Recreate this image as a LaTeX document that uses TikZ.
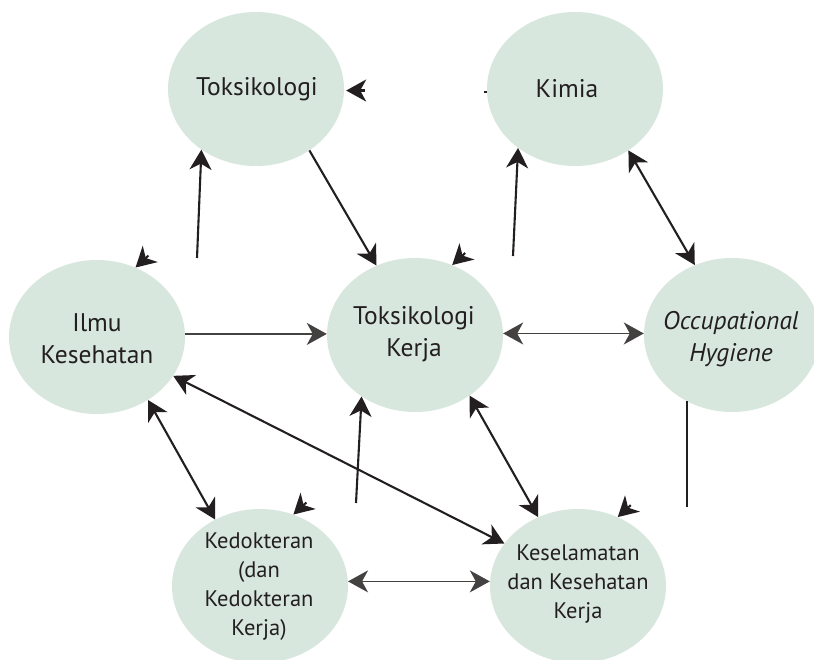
\documentclass[tikz,border=0pt]{standalone}
\usepackage{fontspec}
\setmainfont{PT Sans}
\usetikzlibrary{arrows.meta,calc,shapes.geometric}
\definecolor{bub}{RGB}{216,231,222}
\definecolor{ink}{RGB}{35,31,32}
\begin{document}
\begin{tikzpicture}[x=1pt,y=-1pt,
  bubble/.style={ellipse, fill=bub, minimum width=176pt, minimum height=154pt, inner sep=0pt},
  lbl/.style={align=center, text=ink, inner sep=0pt, font=\fontsize{25.5}{32}\selectfont},
  lbls/.style={align=center, text=ink, inner sep=0pt, font=\fontsize{22.5}{29}\selectfont},
  conn/.style={draw=ink, line width=2.1pt},
  fine/.style={draw=ink!85, line width=1.5pt},
  onehead/.style={arrows={-Stealth[length=20pt 0 0,width=22pt 0 0,inset=6pt 0 0]}},
  twohead/.style={arrows={Stealth[length=20pt 0 0,width=22pt 0 0,inset=6pt 0 0]-Stealth[length=20pt 0 0,width=22pt 0 0,inset=6pt 0 0]}}
]
\useasboundingbox (0,0) rectangle (814,659);
\fill[white] (0,0) rectangle (814,659);

% bubbles
\node[bubble] (tok)  at (256,89)  {};
\node[bubble] (kim)  at (575,89)  {};
\node[bubble] (ilmu) at (97,337)  {};
\node[bubble] (tk)   at (415,335) {};
\node[bubble] (occ)  at (732,335) {};
\node[bubble] (ked)  at (260,586) {};
\node[bubble] (kes)  at (578,586) {};

% texts
\node[lbl]  (tokT)  at (257,89)  {Toksikologi};
\node[lbl]  (kimT)  at (567,89)  {Kimia};
\node[lbl]  (ilmuT) at (97,339)  {Ilmu\\Kesehatan};
\node[lbl]  (tkT)   at (414,334) {Toksikologi\\Kerja};
\node[lbl]  (occT)  at (731,339) {\itshape Occupational\\\itshape Hygiene};
\node[lbls] (kedT)  at (259,587) {Kedokteran\\(dan\\Kedokteran\\Kerja)};
\node[lbls] (kesT)  at (578,584) {Keselamatan\\dan Kesehatan\\Kerja};

% free ends
\coordinate (s1) at ($(tok.-1)+(21,0)$);
\coordinate (k0) at ($(kim.182)+(-3,0)$);
\coordinate (c2) at (197,258);
\coordinate (s3) at ($(ilmu.61)+(13,-12)$);
\coordinate (s5) at ($(tk.62)+(13,-12)$);
\coordinate (c6) at (513,256);
\coordinate (c12) at (356,503);
\coordinate (s13) at ($(ked.65)+(13,-12)$);
\coordinate (s15) at ($(kes.60)+(13,-12)$);
\coordinate (c16) at (687,507);

% connectors
\draw[conn,onehead,shorten >=2pt] (s1) -- (tok.-1);
\draw[conn] (kim.182) -- (k0);
\draw[conn,onehead] (c2) -- (tok.-132);
\draw[conn,onehead] (s3) -- (ilmu.61);
\draw[conn,onehead] (tok.-49) -- (tk.119);
\draw[conn,onehead] (s5) -- (tk.62);
\draw[conn,onehead] (c6) -- (kim.-134);
\draw[conn,twohead] (kim.-49) -- (occ.118);
\draw[fine,onehead] (ilmu.2) -- (ilmu.2 -| tk.west);
\draw[fine,twohead] (tk.1) -- (tk.1 -| occ.west);
\draw[conn,twohead] (ilmu.-27) -- (kes.150);
\draw[conn,twohead] (ilmu.-51) -- (ked.124);
\draw[conn,onehead] (c12) -- (tk.-131);
\draw[conn,onehead] (s13) -- (ked.65);
\draw[conn,twohead] (tk.-48) -- (kes.120);
\draw[conn,onehead] (s15) -- (kes.60);
\draw[conn] (c16) -- (c16 |- occ.-125);
\draw[fine,twohead] (ked.3) -- (ked.3 -| kes.west);
\end{tikzpicture}
\end{document}
